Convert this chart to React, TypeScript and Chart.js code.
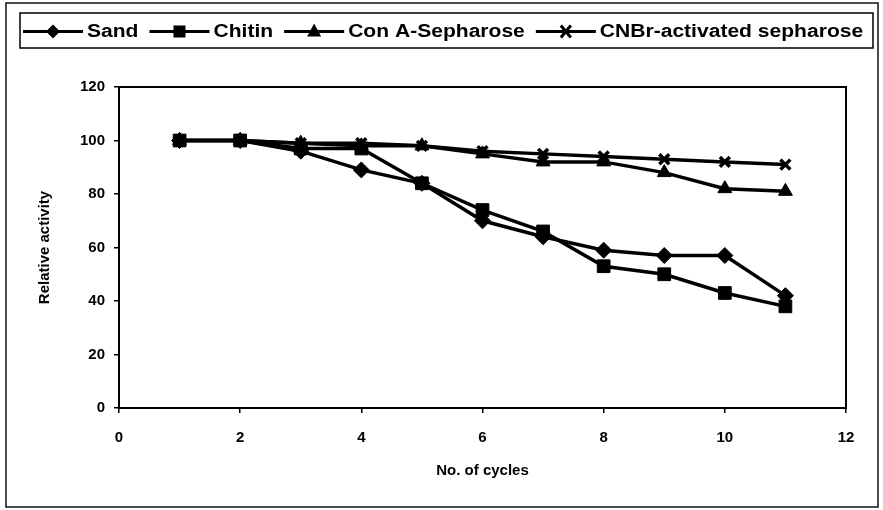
import React, { useEffect, useRef } from "react";
import { Chart, registerables } from "chart.js";

Chart.register(...registerables);

const cycles = [1, 2, 3, 4, 5, 6, 7, 8, 9, 10, 11];
const sand = [100, 100, 96, 89, 84, 70, 64, 59, 57, 57, 42];
const chitin = [100, 100, 97, 97, 84, 74, 66, 53, 50, 43, 38];
const conA = [100, 100, 99, 98, 98, 95, 92, 92, 88, 82, 81];
const cnbr = [100, 100, 99, 99, 98, 96, 95, 94, 93, 92, 91];
const seriesNames = ["Sand", "Chitin", "Con A-Sepharose", "CNBr-activated sepharose"];
const pointStyles = ["rectRot", "rect", "triangle", "crossRot"];
const xTitle = "No. of cycles";
const yTitle = "Relative activity";

const FONT = "'Liberation Sans', Arial, sans-serif";

function legendMarker(ctx: CanvasRenderingContext2D, style: string, x: number, y: number) {
  ctx.save();
  ctx.fillStyle = "#000";
  ctx.strokeStyle = "#000";
  ctx.beginPath();
  if (style === "rectRot") {
    ctx.moveTo(x, y - 7);
    ctx.lineTo(x + 7, y);
    ctx.lineTo(x, y + 7);
    ctx.lineTo(x - 7, y);
    ctx.closePath();
    ctx.fill();
  } else if (style === "rect") {
    ctx.rect(x - 6, y - 6, 12, 12);
    ctx.fill();
  } else if (style === "triangle") {
    ctx.moveTo(x, y - 8);
    ctx.lineTo(x + 7, y + 5);
    ctx.lineTo(x - 7, y + 5);
    ctx.closePath();
    ctx.fill();
  } else {
    ctx.lineWidth = 3;
    ctx.moveTo(x - 5, y - 6);
    ctx.lineTo(x + 5, y + 6);
    ctx.moveTo(x + 5, y - 6);
    ctx.lineTo(x - 5, y + 6);
    ctx.stroke();
  }
  ctx.restore();
}

const framePlugin = {
  id: "framePlugin",
  beforeDraw(chart: any) {
    const { ctx, width, height } = chart;
    ctx.save();
    ctx.fillStyle = "#ffffff";
    ctx.fillRect(0, 0, width, height);
    ctx.strokeStyle = "#111";
    ctx.lineWidth = 1.5;
    ctx.strokeRect(6, 3, 872, 504);
    ctx.restore();
  },
  afterDraw(chart: any) {
    const { ctx, chartArea } = chart;
    ctx.save();
    ctx.strokeStyle = "#000";
    ctx.lineWidth = 2;
    ctx.strokeRect(chartArea.left, chartArea.top, chartArea.right - chartArea.left, chartArea.bottom - chartArea.top);
    // legend
    const bx = 20, by = 13, bw = 853, bh = 35;
    ctx.lineWidth = 1.5;
    ctx.strokeRect(bx, by, bw, bh);
    ctx.font = `bold 18px ${FONT}`;
    ctx.textBaseline = "middle";
    ctx.fillStyle = "#000";
    const cy = by + bh / 2 + 1;
    const sampleW = 60;
    const sx = 1.17;
    let x = bx + 3;
    chart.data.datasets.forEach((ds: any, i: number) => {
      ctx.strokeStyle = "#000";
      ctx.lineWidth = 3;
      ctx.beginPath();
      ctx.moveTo(x, cy);
      ctx.lineTo(x + sampleW, cy);
      ctx.stroke();
      legendMarker(ctx, ds.pointStyle, x + sampleW / 2, cy);
      const tx = x + sampleW + 4;
      const tw = ctx.measureText(seriesNames[i]).width * sx;
      ctx.save();
      ctx.translate(tx, cy + 1);
      ctx.scale(sx, 1);
      ctx.fillStyle = "#000";
      ctx.fillText(seriesNames[i], 0, 0);
      ctx.restore();
      x = tx + tw + 11;
    });
    ctx.restore();
  },
};

export default function App() {
  const ref = useRef<HTMLCanvasElement | null>(null);
  useEffect(() => {
    if (!ref.current) return;
    const radii = [8, 9, 8, 7];
    const mk = (i: number, vals: number[]) => ({
      label: seriesNames[i],
      data: cycles.map((c, k) => ({ x: c, y: vals[k] })),
      borderColor: "#000",
      backgroundColor: "#000",
      borderWidth: 3.5,
      pointStyle: pointStyles[i],
      pointRadius: radii[i],
      pointBorderWidth: i === 3 ? 3.5 : 1,
      pointBackgroundColor: "#000",
      pointBorderColor: "#000",
      showLine: true,
      tension: 0,
    });
    const chart = new Chart(ref.current, {
      type: "scatter",
      data: { datasets: [mk(0, sand), mk(1, chitin), mk(2, conA), mk(3, cnbr)] },
      plugins: [framePlugin],
      options: {
        animation: false,
        responsive: false,
        layout: { padding: { top: 87, right: 37, left: 0, bottom: 0 } },
        plugins: { legend: { display: false }, tooltip: { enabled: false } },
        scales: {
          x: {
            type: "linear",
            min: 0,
            max: 12,
            ticks: { stepSize: 2, color: "#000", font: { family: FONT, size: 15, weight: "bold" }, padding: 16 },
            grid: { display: true, drawOnChartArea: false, drawTicks: true, tickLength: 5, color: "#000", lineWidth: 1.5 },
            border: { display: true, color: "#000", width: 2 },
            title: { display: true, text: xTitle, color: "#000", font: { family: FONT, size: 15, weight: "bold" }, padding: { top: 0, bottom: 30 } },
            afterFit: (s: any) => { s.height = 102; },
          },
          y: {
            min: 0,
            max: 120,
            ticks: { stepSize: 20, color: "#000", font: { family: FONT, size: 15, weight: "bold" }, padding: 9 },
            grid: { display: true, drawOnChartArea: false, drawTicks: true, tickLength: 5, color: "#000", lineWidth: 1.5 },
            border: { display: true, color: "#000", width: 2 },
            title: { display: true, text: yTitle, color: "#000", font: { family: FONT, size: 15, weight: "bold" }, padding: { top: 36, bottom: 0 } },
            afterFit: (s: any) => { s.width = 119; },
          },
        },
      } as any,
    });
    return () => chart.destroy();
  }, []);
  return (
    <div style={{ position: "fixed", left: 0, top: 0, width: 883, height: 510, background: "#fff" }}>
      <canvas ref={ref} width={883} height={510} style={{ width: 883, height: 510, display: "block" }} />
    </div>
  );
}
